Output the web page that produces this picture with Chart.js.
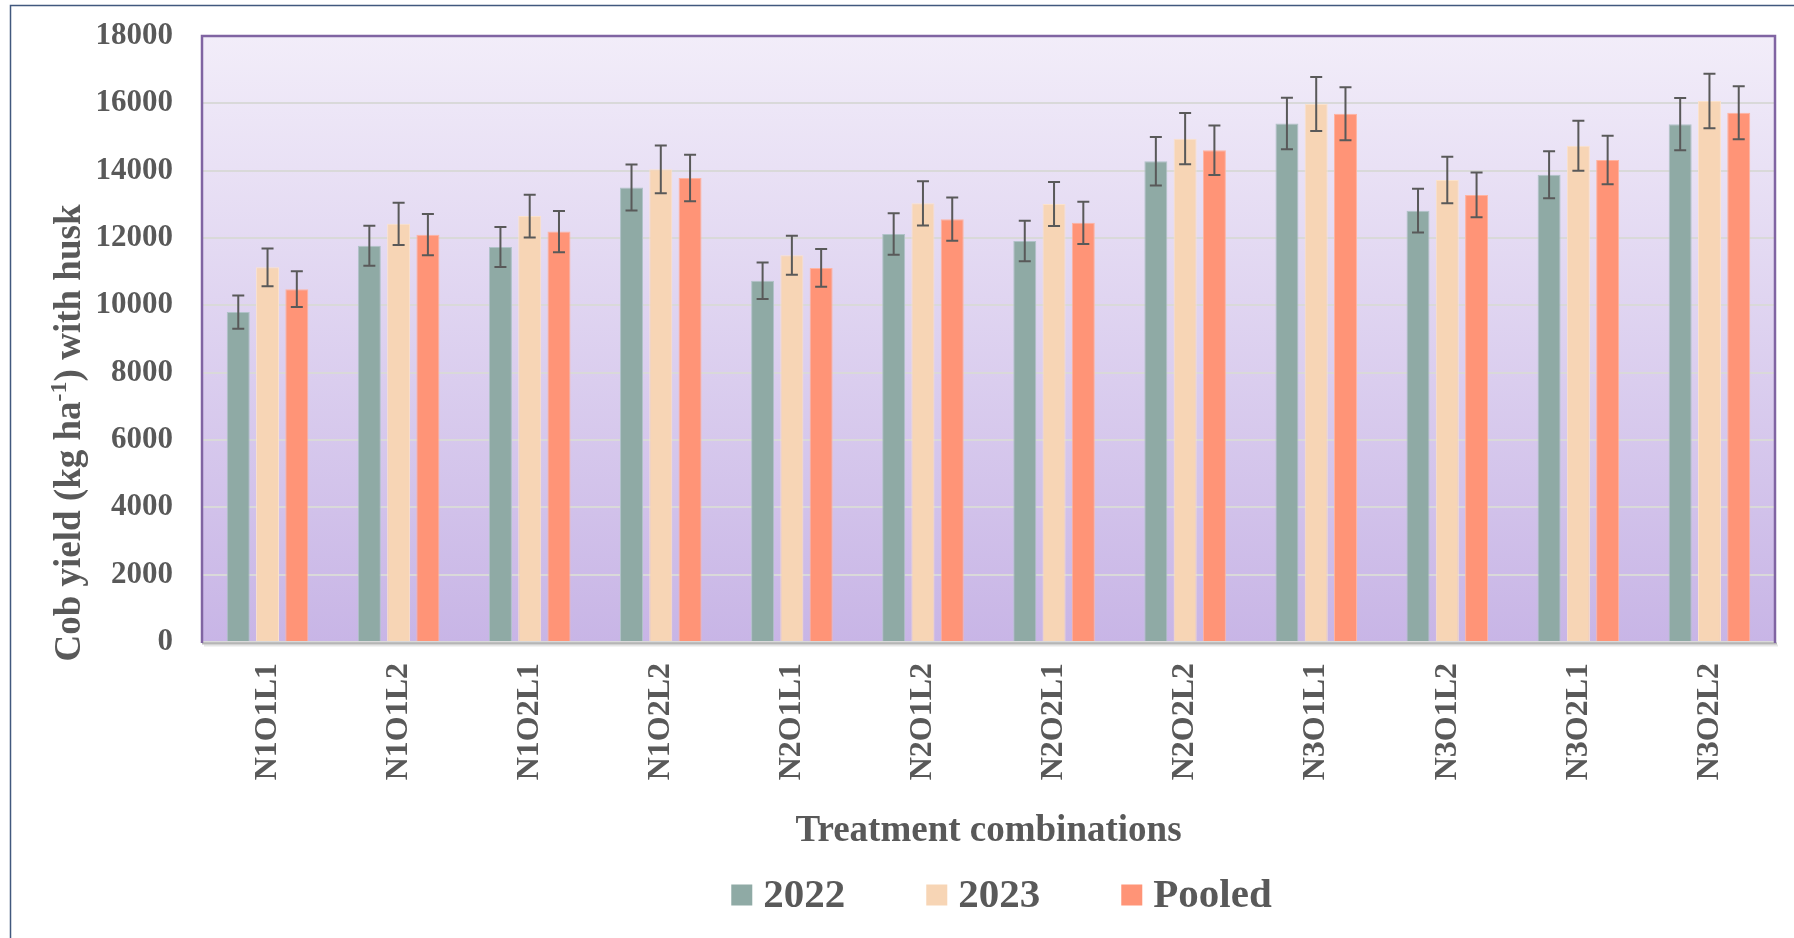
<!DOCTYPE html>
<html><head><meta charset="utf-8">
<script src="https://cdn.jsdelivr.net/npm/chart.js@4.4.1/dist/chart.umd.min.js"></script>
<style>html,body{margin:0;padding:0;background:#fff;}#wrap{width:1794px;height:938px;position:relative;}</style>
</head><body><div id="wrap"><canvas id="c"></canvas></div>
<script>
const categories = ['N1O1L1','N1O1L2','N1O2L1','N1O2L2','N2O1L1','N2O1L2','N2O2L1','N2O2L2','N3O1L1','N3O1L2','N3O2L1','N3O2L2'];
const y2022  = [9800, 11770, 11730, 13500, 10730, 12120, 11910, 14280, 15400, 12810, 13880, 15380];
const y2023  = [11130, 12420, 12650, 14040, 11490, 13030, 13010, 14950, 15980, 13720, 14740, 16070];
const pooled = [10480, 12100, 12190, 13780, 11110, 12560, 12450, 14610, 15690, 13280, 14320, 15720];
const err2022   = [495, 595, 595, 685, 545, 615, 600, 720, 765, 650, 700, 775];
const err2023   = [560, 625, 635, 710, 580, 655, 650, 760, 800, 690, 745, 810];
const errPooled = [530, 610, 610, 690, 560, 640, 630, 735, 785, 665, 720, 790];
const seriesLabels = ['2022', '2023', 'Pooled'];
const yTicks = {min: 0, max: 18000, step: 2000};

const FONT = '"Liberation Serif", "Times New Roman", serif';
const TEXT = '#595959';

const bgPlugin = {
  id: 'bg',
  beforeDraw(chart) {
    const {ctx, chartArea: a} = chart;
    ctx.save();
    ctx.fillStyle = '#fff';
    ctx.fillRect(0, 0, chart.width, chart.height);
    ctx.strokeStyle = '#41587e';
    ctx.lineWidth = 1.5;
    ctx.beginPath();
    ctx.moveTo(10.5, chart.height + 5);
    ctx.lineTo(10.5, 5.5);
    ctx.lineTo(chart.width + 5, 5.5);
    ctx.stroke();
    const g = ctx.createLinearGradient(0, a.top, 0, a.bottom);
    g.addColorStop(0, '#f2edf9');
    g.addColorStop(1, '#c8b5e6');
    ctx.fillStyle = g;
    ctx.fillRect(a.left, a.top, a.right - a.left, a.bottom - a.top);
    ctx.restore();
  }
};

const errPlugin = {
  id: 'errbars',
  afterDatasetsDraw(chart) {
    const {ctx} = chart;
    const ys = chart.scales.y;
    ctx.save();
    ctx.strokeStyle = '#595959';
    ctx.lineWidth = 2;
    chart.data.datasets.forEach((ds, i) => {
      const meta = chart.getDatasetMeta(i);
      meta.data.forEach((bar, j) => {
        const v = ds.data[j], e = ds.errors[j];
        const x = bar.x;
        const yt = ys.getPixelForValue(v + e), yb = ys.getPixelForValue(v - e);
        ctx.beginPath();
        ctx.moveTo(x, yt); ctx.lineTo(x, yb);
        ctx.moveTo(x - 6, yt); ctx.lineTo(x + 6, yt);
        ctx.moveTo(x - 6, yb); ctx.lineTo(x + 6, yb);
        ctx.stroke();
      });
    });
    ctx.restore();
  }
};

const decoPlugin = {
  id: 'deco',
  afterDraw(chart) {
    const {ctx, chartArea: a} = chart;
    ctx.save();
    ctx.strokeStyle = 'rgba(120,120,120,0.55)';
    ctx.lineWidth = 2;
    ctx.beginPath(); ctx.moveTo(a.left, a.bottom + 1.5); ctx.lineTo(a.right + 2, a.bottom + 1.5); ctx.stroke();
    ctx.strokeStyle = 'rgba(150,150,150,0.25)';
    ctx.beginPath(); ctx.moveTo(a.left + 2, a.bottom + 3.5); ctx.lineTo(a.right + 3, a.bottom + 3.5); ctx.stroke();
    ctx.strokeStyle = '#8064a2';
    ctx.lineWidth = 2.5;
    ctx.beginPath();
    ctx.moveTo(a.left, a.bottom + 1);
    ctx.lineTo(a.left, a.top);
    ctx.lineTo(a.right, a.top);
    ctx.lineTo(a.right, a.bottom + 1);
    ctx.stroke();

    ctx.fillStyle = TEXT;
    ctx.translate(80, 433);
    ctx.rotate(-Math.PI / 2);
    const big = 'bold 37px ' + FONT, small = 'bold 24px ' + FONT;
    const p1 = 'Cob yield (kg ha', sup = '-1', p2 = ') with husk';
    ctx.font = big; const w1 = ctx.measureText(p1).width, w3 = ctx.measureText(p2).width;
    ctx.font = small; const w2 = ctx.measureText(sup).width;
    let sx = -(w1 + w2 + w3) / 2;
    ctx.textBaseline = 'alphabetic';
    ctx.textAlign = 'left';
    ctx.font = big; ctx.fillText(p1, sx, 0);
    ctx.font = small; ctx.fillText(sup, sx + w1, -14);
    ctx.font = big; ctx.fillText(p2, sx + w1 + w2, 0);
    ctx.setTransform(1, 0, 0, 1, 0, 0);

    const lf = 'bold 41px ' + FONT;
    ctx.font = lf;
    const box = 21, gap = 11, spacing = 81;
    const items = chart.data.datasets.map(ds => ({text: ds.label, color: ds.backgroundColor, w: ctx.measureText(ds.label).width}));
    const total = items.reduce((s, it) => s + box + gap + it.w, 0) + spacing * (items.length - 1);
    let x = 1001.5 - total / 2;
    const cy = 895;
    ctx.textBaseline = 'middle';
    items.forEach(it => {
      ctx.fillStyle = it.color;
      ctx.fillRect(x, cy - box / 2, box, box);
      ctx.fillStyle = TEXT;
      ctx.fillText(it.text, x + box + gap, cy + 1);
      x += box + gap + it.w + spacing;
    });
    ctx.restore();
  }
};

new Chart(document.getElementById('c'), {
  type: 'bar',
  data: {
    labels: categories,
    datasets: [
      {label: seriesLabels[0], data: y2022, errors: err2022, backgroundColor: '#8faaa5', borderColor: '#b0c2c8', borderWidth: 1},
      {label: seriesLabels[1], data: y2023, errors: err2023, backgroundColor: '#f7d5b5', borderColor: '#fbe2cc', borderWidth: 1},
      {label: seriesLabels[2], data: pooled, errors: errPooled, backgroundColor: '#ff9477', borderColor: '#ffb3a0', borderWidth: 1}
    ]
  },
  options: {
    responsive: true,
    maintainAspectRatio: false,
    animation: false,
    devicePixelRatio: 1,
    categoryPercentage: 0.67,
    barPercentage: 0.785,
    layout: {padding: {left: 0, right: 19, top: 36, bottom: 74}},
    plugins: {legend: {display: false}, tooltip: {enabled: false}},
    scales: {
      x: {
        grid: {display: false, drawTicks: false},
        border: {display: false},
        ticks: {font: {family: FONT, size: 32, weight: 'bold'}, color: TEXT, maxRotation: 90, minRotation: 90, padding: 21, autoSkip: false},
        title: {display: true, text: 'Treatment combinations', font: {family: FONT, size: 37, weight: 'bold'}, color: TEXT, padding: {top: 0, bottom: 10}},
        afterFit(s) { s.height = 222; }
      },
      y: {
        min: yTicks.min, max: yTicks.max,
        ticks: {stepSize: yTicks.step, font: {family: FONT, size: 31, weight: 'bold'}, color: TEXT, padding: 0, callback: v => String(v)},
        grid: {color: '#d9d9d9', lineWidth: 2, drawTicks: true, tickLength: 29, tickColor: 'rgba(0,0,0,0)'},
        border: {display: false},
        afterFit(s) { s.width = 202; }
      }
    }
  },
  plugins: [bgPlugin, errPlugin, decoPlugin]
});
</script>
</body></html>
